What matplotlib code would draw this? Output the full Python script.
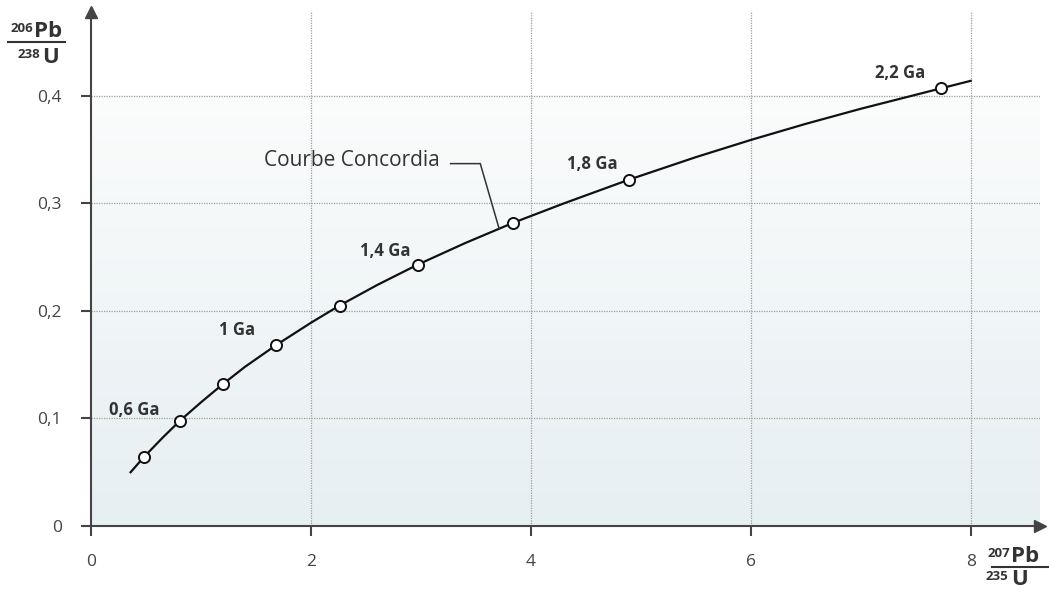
import numpy as np
import matplotlib
matplotlib.use("Agg")
import matplotlib.pyplot as plt
from matplotlib.colors import LinearSegmentedColormap

plt.rcParams["font.family"] = ["Open Sans", "DejaVu Sans"]

# Concordia curve, 207Pb/235U vs 206Pb/238U
curve_x = [0.36, 0.48, 0.65, 0.81, 1.0, 1.2, 1.4, 1.68, 2.0, 2.26, 2.6, 2.97,
           3.4, 3.84, 4.3, 4.89, 5.5, 6.0, 6.5, 7.0, 7.73, 8.0]
curve_y = [0.050, 0.064, 0.082, 0.098, 0.115, 0.132, 0.148, 0.168, 0.189, 0.205,
           0.224, 0.243, 0.263, 0.282, 0.300, 0.322, 0.343, 0.359, 0.374, 0.388,
           0.407, 0.414]

# age markers (every 0.2 Ga from 0.4 to 1.8, then 2.2)
pt_x = [0.48, 0.81, 1.2, 1.68, 2.26, 2.97, 3.84, 4.89, 7.73]
pt_y = [0.064, 0.098, 0.132, 0.168, 0.205, 0.243, 0.282, 0.322, 0.407]

age_labels = ["0,6 Ga", "1 Ga", "1,4 Ga", "1,8 Ga", "2,2 Ga"]
age_lab_x = [0.39, 1.33, 2.68, 4.56, 7.36]
age_lab_y = [0.108, 0.182, 0.256, 0.337, 0.421]

xticks = [0, 2, 4, 6, 8]
yticks = [0, 0.1, 0.2, 0.3, 0.4]
ytick_labels = ["0", "0,1", "0,2", "0,3", "0,4"]

W, H = 1049, 591
fig = plt.figure(figsize=(W / 100, H / 100), dpi=100)
ax = fig.add_axes([91 / W, (H - 526) / H, (1040 - 91) / W, (526 - 12) / H])
xmax, ymax = 8.63, 0.478
ax.set_xlim(0, xmax)
ax.set_ylim(0, ymax)

# pale blue backdrop fading to white at 0.4
cmap = LinearSegmentedColormap.from_list("bg", ["#e6eff2", "#fbfcfc"])
grad = np.linspace(0, 1, 256).reshape(-1, 1)
ax.imshow(grad, cmap=cmap, extent=(0, xmax, 0, 0.4), origin="lower",
          aspect="auto", zorder=0)

for gx in xticks[1:]:
    ax.axvline(gx, color="#a0a0a0", lw=0.9, ls=(0, (1, 1)), zorder=1)
for gy in yticks[1:]:
    ax.axhline(gy, color="#a0a0a0", lw=0.9, ls=(0, (1, 1)), zorder=1)

ax.plot(curve_x, curve_y, color="#111111", lw=1.6, zorder=3)
ax.plot(pt_x, pt_y, "o", ms=8, mfc="white", mec="#111111", mew=1.4, zorder=4)

for t, lx, ly in zip(age_labels, age_lab_x, age_lab_y):
    ax.text(lx, ly, t, ha="center", va="center", fontsize=12,
            fontweight="bold", color="#333333", zorder=5)

# leader for the curve name
ax.text(1.57, 0.340, "Courbe Concordia", ha="left", va="center",
        fontsize=15, color="#333333", zorder=5)
ax.plot([3.27, 3.54, 3.71], [0.337, 0.337, 0.277], color="#333333",
        lw=1.1, zorder=5)

for s in ["top", "right"]:
    ax.spines[s].set_visible(False)
for s in ["left", "bottom"]:
    ax.spines[s].set_color("#444444")
    ax.spines[s].set_linewidth(1.5)
    ax.spines[s].set_zorder(6)
ax.plot(1, 0, ">", color="#444444", ms=9, transform=ax.get_yaxis_transform(),
        clip_on=False, zorder=7)
ax.plot(0, 1, "^", color="#444444", ms=9, transform=ax.get_xaxis_transform(),
        clip_on=False, zorder=7)

ax.set_xticks(xticks)
ax.set_xticklabels([str(v) for v in xticks])
ax.set_yticks(yticks)
ax.set_yticklabels(ytick_labels)
ax.tick_params(direction="out", length=7, width=1.5, color="#444444",
               labelsize=12.5, labelcolor="#444444")
ax.tick_params(axis="x", pad=13)
ax.tick_params(axis="y", pad=14)


def px(x, y):
    return x / W, 1 - y / H


# axis titles as stacked isotope ratios (positions in pixels)
def ratio(mass_x, el_x, top_base, line_y, bot_base, x0, x1,
          top_mass, top_el, bot_mass, bot_el):
    kw = dict(fontweight="bold", color="#333333", va="baseline")
    fig.text(*px(mass_x[0], top_base - 5), top_mass, ha="right", fontsize=9.5, **kw)
    fig.text(*px(el_x[0], top_base), top_el, ha="left", fontsize=16, **kw)
    fig.text(*px(mass_x[1], bot_base - 5), bot_mass, ha="right", fontsize=9.5, **kw)
    fig.text(*px(el_x[1], bot_base), bot_el, ha="left", fontsize=16, **kw)
    fig.add_artist(plt.Line2D([x0 / W, x1 / W], [1 - line_y / H] * 2,
                              transform=fig.transFigure, color="#333333",
                              lw=1.5))


ratio((33, 40), (34, 42), 37, 42, 63, 8, 65, "206", "Pb", "238", "U")
ratio((1010, 1008), (1011, 1011), 562, 567, 585, 992, 1049,
      "207", "Pb", "235", "U")

fig.savefig("out.png", dpi=100, facecolor="white")
